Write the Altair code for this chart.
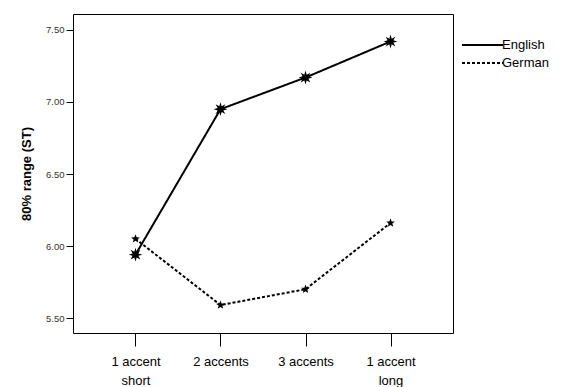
import math
import altair as alt
import pandas as pd

categories = ["1 accent|short", "2 accents", "3 accents", "1 accent|long"]
english = [5.94, 6.95, 7.17, 7.42]
german = [6.05, 5.59, 5.70, 6.16]
y_ticks = [5.5, 6.0, 6.5, 7.0, 7.5]
languages = ["English", "German"]

rows = []
for c, e, g in zip(categories, english, german):
    rows.append({"cat": c, "val": e, "lang": "English"})
    rows.append({"cat": c, "val": g, "lang": "German"})
df = pd.DataFrame(rows)


def star_path(n, inner):
    pts = []
    for i in range(2 * n):
        r = 1.0 if i % 2 == 0 else inner
        a = math.pi * i / n - math.pi / 2
        pts.append(f"{r*math.cos(a):.3f},{r*math.sin(a):.3f}")
    return "M" + "L".join(pts) + "Z"


burst = star_path(8, 0.45)
star5 = star_path(5, 0.42)

dash_scale = alt.Scale(domain=languages, range=[[1, 0], [3, 2]])

x = alt.X("cat:N", sort=categories, title=None,
          scale=alt.Scale(type="point", padding=0.735),
          axis=alt.Axis(labelExpr="split(datum.label, '|')", labelAngle=0,
                        tickSize=13, labelPadding=9, labelFontSize=13,
                        labelFont="Liberation Sans", labelColor="black",
                        labelLineHeight=19, domain=False, tickColor="black",
                        labelBaseline="top"))
y = alt.Y("val:Q", title="80% range (ST)",
          scale=alt.Scale(domain=[5.396, 7.611], nice=False, zero=False),
          axis=alt.Axis(values=y_ticks, format=".2f", tickSize=7, labelFontSize=9.5,
                        labelFont="Liberation Sans", labelColor="#333333",
                        domain=False, grid=False, tickColor="black",
                        titleFont="Liberation Sans", titleFontSize=13,
                        titleFontWeight="bold", titleColor="black", titlePadding=12))

base = alt.Chart(df)

lines = base.mark_line(color="black", strokeWidth=2).encode(
    x=x, y=y,
    strokeDash=alt.StrokeDash("lang:N", scale=dash_scale, legend=None),
)

pts_en = base.transform_filter(alt.datum.lang == "English").mark_point(
    shape=burst, filled=True, color="black", size=190, opacity=1).encode(x=x, y=y)
pts_de = base.transform_filter(alt.datum.lang == "German").mark_point(
    shape=star5, filled=True, color="black", size=85, opacity=1).encode(x=x, y=y)

# manual legend (outside the plot, right of the frame)
legend_layers = []
for lang, ypix in zip(languages, [31, 49]):
    ldf = pd.DataFrame({"lang": [lang]})
    legend_layers.append(
        alt.Chart(ldf).mark_rule(color="black", strokeWidth=2).encode(
            x=alt.value(389), x2=alt.value(430), y=alt.value(ypix),
            strokeDash=alt.StrokeDash("lang:N", scale=dash_scale, legend=None),
        )
    )
    legend_layers.append(
        alt.Chart(ldf).mark_text(
            align="left", baseline="middle", fontSize=13, font="Liberation Sans",
            color="black").encode(
            x=alt.value(429), y=alt.value(ypix), text="lang:N",
        )
    )

chart = alt.layer(lines, pts_en, pts_de, *legend_layers).properties(
    width=380, height=319,
    background="white",
    autosize=alt.AutoSizeParams(type="none"),
    padding={"left": 65, "top": 6, "right": 110, "bottom": 58},
).configure_view(stroke="black", strokeWidth=1)

chart.save("out.html", embed_options={"renderer": "svg", "actions": False})
